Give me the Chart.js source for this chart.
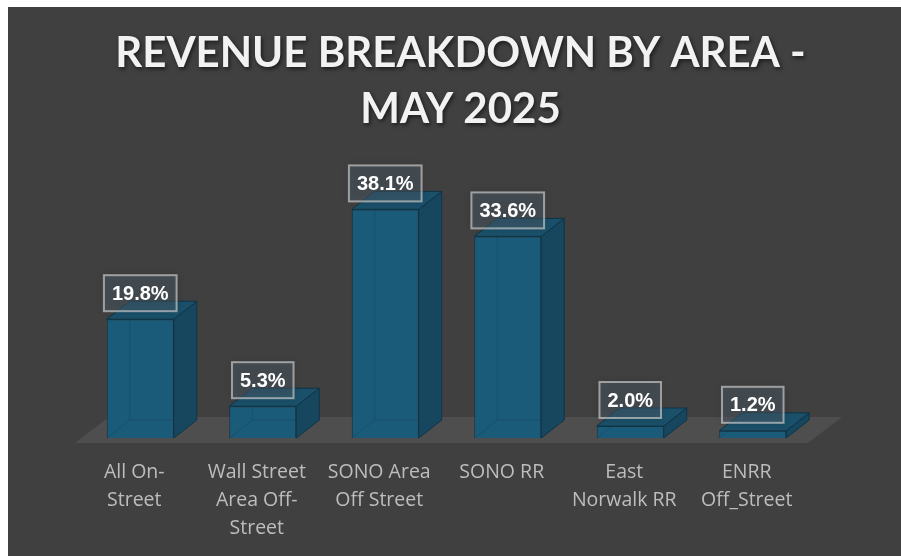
<!DOCTYPE html>
<html>
<head>
<meta charset="utf-8">
<script src="https://cdn.jsdelivr.net/npm/chart.js@4.4.1/dist/chart.umd.min.js"></script>
<style>
    html, body { margin: 0; background: #fff; }
    #wrap { position: absolute; left: 8px; top: 7px; width: 893px; height: 549px; background: #404040; overflow: hidden; }
</style>
</head>
<body>
<div id="wrap"><canvas id="areaChart"></canvas></div>
<script>
const areaLabels = [
    ["All On-", "Street"],
    ["Wall Street", "Area Off-", "Street"],
    ["SONO Area", "Off Street"],
    ["SONO RR"],
    ["East", "Norwalk RR"],
    ["ENRR", "Off_Street"]
];
const revenueShare = [19.8, 5.3, 38.1, 33.6, 2.0, 1.2];
const titleLines = ["REVENUE BREAKDOWN BY AREA -", "MAY 2025"];

const depthX = 23, depthY = -18;

// floor plane + column sides/tops, excel-style 3d look
const columns3d = {
    id: "columns3d",
    beforeDatasetsDraw(chart) {
        const { ctx, chartArea: a } = chart;
        ctx.save();
        ctx.fillStyle = "#4e4e4e";
        ctx.beginPath();
        ctx.moveTo(a.left - 4, a.bottom + 5);
        ctx.lineTo(a.right - 6, a.bottom + 5);
        ctx.lineTo(a.right + 28, a.bottom - 21);
        ctx.lineTo(a.left + 30, a.bottom - 21);
        ctx.closePath();
        ctx.fill();
        ctx.restore();
    },
    afterDatasetsDraw(chart) {
        const ctx = chart.ctx;
        ctx.save();
        ctx.lineWidth = 1;
        chart.getDatasetMeta(0).data.forEach(bar => {
            const { x, y, base, width } = bar.getProps(["x", "y", "base", "width"], true);
            const l = x - width / 2, r = x + width / 2;
            // faint back edges seen through the front
            ctx.strokeStyle = "rgba(10,40,58,0.22)";
            ctx.beginPath();
            ctx.moveTo(l + depthX, y + depthY);
            ctx.lineTo(l + depthX, base + depthY);
            ctx.lineTo(r + depthX, base + depthY);
            ctx.moveTo(l, base);
            ctx.lineTo(l + depthX, base + depthY);
            ctx.stroke();
            ctx.strokeStyle = "#0e3447";
            // side
            ctx.fillStyle = "#17465f";
            ctx.beginPath();
            ctx.moveTo(r, y);
            ctx.lineTo(r + depthX, y + depthY);
            ctx.lineTo(r + depthX, base + depthY);
            ctx.lineTo(r, base);
            ctx.closePath();
            ctx.fill();
            ctx.stroke();
            // top
            ctx.fillStyle = "#1a5069";
            ctx.beginPath();
            ctx.moveTo(l, y);
            ctx.lineTo(l + depthX, y + depthY);
            ctx.lineTo(r + depthX, y + depthY);
            ctx.lineTo(r, y);
            ctx.closePath();
            ctx.fill();
            ctx.stroke();
        });
        ctx.restore();
    }
};

const valueBoxes = {
    id: "valueBoxes",
    afterDatasetsDraw(chart) {
        const ctx = chart.ctx;
        const ds = chart.data.datasets[0];
        ctx.save();
        ctx.font = "bold 20px 'Liberation Sans', Arial, sans-serif";
        ctx.textAlign = "center";
        ctx.textBaseline = "middle";
        chart.getDatasetMeta(0).data.forEach((bar, i) => {
            const txt = ds.data[i].toFixed(1) + "%";
            const w = ctx.measureText(txt).width + 16, h = 36;
            const cx = bar.x, cy = bar.y - 26;
            ctx.shadowColor = "rgba(0,0,0,0.35)";
            ctx.shadowBlur = 8;
            ctx.fillStyle = "rgba(78,96,108,0.45)";
            ctx.fillRect(cx - w / 2, cy - h / 2, w, h);
            ctx.shadowColor = "transparent";
            ctx.strokeStyle = "rgba(200,200,200,0.7)";
            ctx.lineWidth = 2;
            ctx.strokeRect(cx - w / 2, cy - h / 2, w, h);
            ctx.fillStyle = "#ffffff";
            ctx.fillText(txt, cx, cy + 1);
        });
        ctx.restore();
    }
};

const spacedTitle = {
    id: "spacedTitle",
    afterDraw(chart) {
        const ctx = chart.ctx;
        ctx.save();
        ctx.font = "bold 42px Lato, 'Open Sans', sans-serif";
        ctx.letterSpacing = "0px";
        ctx.textAlign = "center";
        ctx.textBaseline = "alphabetic";
        ctx.fillStyle = "#f2f2f2";
        ctx.shadowColor = "rgba(0,0,0,0.6)";
        ctx.shadowBlur = 4;
        ctx.shadowOffsetX = 1.5;
        ctx.shadowOffsetY = 2;
        ctx.fillText(titleLines[0], chart.width / 2 + 6, 60);
        ctx.fillText(titleLines[1], chart.width / 2 + 6, 116);
        ctx.restore();
    }
};

new Chart(document.getElementById("areaChart"), {
    type: "bar",
    data: {
        labels: areaLabels,
        datasets: [{
            data: revenueShare,
            backgroundColor: "#1b5b7a",
            borderColor: "#0e3447",
            borderWidth: 1,
            categoryPercentage: 0.547,
            barPercentage: 1
        }]
    },
    options: {
        responsive: true,
        maintainAspectRatio: false,
        animation: false,
        layout: { padding: { left: 71, right: 87, top: 191, bottom: -6 } },
        plugins: {
            legend: { display: false },
            title: { display: false },
            tooltip: { enabled: false }
        },
        scales: {
            x: {
                grid: { display: false, drawTicks: false },
                border: { display: false },
                ticks: {
                    color: "#bdbdbd",
                    font: { family: "'Open Sans', sans-serif", size: 19.5, lineHeight: "28px" },
                    padding: 20,
                    labelOffset: -6,
                    maxRotation: 0,
                    autoSkip: false
                }
            },
            y: { display: false, min: 0, max: 40 }
        }
    },
    plugins: [columns3d, valueBoxes, spacedTitle]
});
</script>
</body>
</html>
